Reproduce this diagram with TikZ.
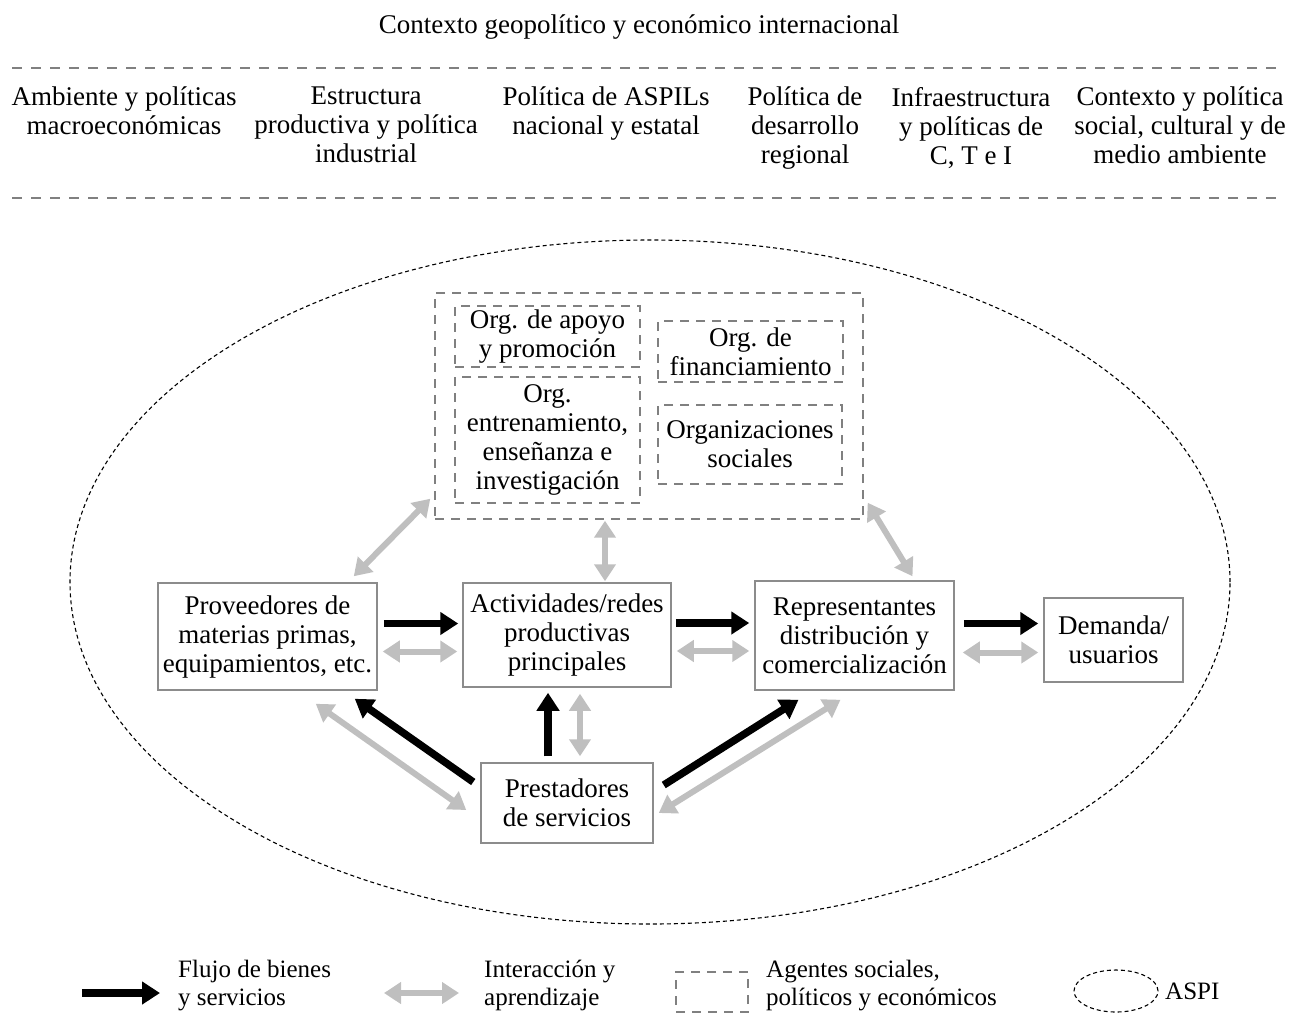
\documentclass[tikz,border=0pt]{standalone}
\usepackage{fontspec}
\setmainfont{Liberation Serif}
\usetikzlibrary{arrows.meta}
\definecolor{linegray}{RGB}{128,128,128}
\definecolor{boxgray}{RGB}{140,140,140}
\definecolor{intergray}{RGB}{191,191,191}
\tikzset{
  txt/.style={font=\fontsize{27}{29}\selectfont, align=center, inner sep=0pt},
  topic/.style={txt, anchor=north, execute at begin node=\strut},
  box/.style={txt, draw=boxgray, line width=1.5pt},
  agent/.style={txt, draw=linegray, line width=1.4pt, dash pattern=on 9pt off 7pt},
  sepline/.style={draw=linegray, line width=2pt, dash pattern=on 10pt off 9pt},
  aspi/.style={draw=black, line width=1.1pt, dash pattern=on 4pt off 3pt},
  flow/.style={line width=7.5pt, -{Triangle[length=18pt,width=22pt]}},
  inter/.style={draw=intergray, line width=6pt, {Triangle[length=17pt,width=21pt]}-{Triangle[length=17pt,width=21pt]}},
  legend/.style={font=\fontsize{25}{28}\selectfont, align=left, anchor=north west, inner sep=0pt, execute at begin node=\strut}
}
\begin{document}
\begin{tikzpicture}[x=1pt, y=-1pt]
  \useasboundingbox (0,0) rectangle (1292,1013);
  \node[txt, anchor=base] (ctx) at (639,33) {Contexto geopolítico y económico internacional};
  \draw[sepline] (12,68) -- (1282,68);
  \draw[sepline] (12,198) -- (1282,198);
  \node[topic] (macro) at (124,87) {Ambiente y políticas\\macroeconómicas};
  \node[topic] (indus) at (366,87) {Estructura\\productiva y política\\industrial};
  \node[topic] (aspil) at (606,87) {Política de ASPILs\\nacional y estatal};
  \node[topic] (region) at (805,87) {Política de\\desarrollo\\regional};
  \node[topic] (cti) at (971,87) {Infraestructura\\y políticas de\\C, T e I};
  \node[topic] (social) at (1180,87) {Contexto y política\\social, cultural y de\\medio ambiente};

  \draw[aspi] (650,582) ellipse [x radius=580pt, y radius=342pt];

  \node[agent, minimum width=428pt, minimum height=226pt] (agents) at (649,406) {};
  \node[agent, minimum width=185pt, minimum height=61pt] (apoyo) at (547.5,336.5) {Org. de apoyo\\y promoción};
  \node[agent, minimum width=185pt, minimum height=126pt] (entren) at (547.5,440) {Org.\\entrenamiento,\\enseñanza e\\investigación};
  \node[agent, minimum width=185pt, minimum height=61pt] (financ) at (750.5,351.5) {Org. de\\financiamiento};
  \node[agent, minimum width=184pt, minimum height=79pt] (osoc) at (750,444.5) {Organizaciones\\sociales};

  \node[box, minimum width=219pt, minimum height=107pt] (prov) at (267.5,636.5) {Proveedores de\\materias primas,\\equipamientos, etc.};
  \node[box, minimum width=208pt, minimum height=104pt] (act) at (567,635) {Actividades/redes\\productivas\\principales};
  \node[box, minimum width=199pt, minimum height=109pt] (rep) at (854.5,635.5) {Representantes\\distribución y\\comercialización};
  \node[box, minimum width=139pt, minimum height=84pt] (dem) at (1113.5,640) {Demanda/\\usuarios};
  \node[box, minimum width=172pt, minimum height=80pt] (pres) at (567,803) {Prestadores\\de servicios};

  \draw[flow, shorten <=6pt, shorten >=4pt] ([yshift=13pt]prov.east) -- ([yshift=13pt]prov.east -| act.west);
  \draw[inter, shorten <=5pt, shorten >=5pt] ([yshift=-15pt]prov.east) -- ([yshift=-15pt]prov.east -| act.west);
  \draw[flow, shorten <=4pt, shorten >=5pt] ([yshift=12pt]act.east) -- ([yshift=12pt]act.east -| rep.west);
  \draw[inter, shorten <=5pt, shorten >=5pt] ([yshift=-16pt]act.east) -- ([yshift=-16pt]act.east -| rep.west);
  \draw[flow, shorten <=9pt, shorten >=5pt] ([yshift=12pt]rep.east) -- ([yshift=12pt]rep.east -| dem.west);
  \draw[inter, shorten <=8pt, shorten >=5pt] ([yshift=-17pt]rep.east) -- ([yshift=-17pt]rep.east -| dem.west);

  \draw[flow, shorten <=6pt, shorten >=5pt] ([xshift=-19pt]pres.north) -- ([xshift=-19pt]pres.north |- act.south);
  \draw[inter, shorten <=6pt, shorten >=6pt] ([xshift=13pt]pres.north) -- ([xshift=13pt]pres.north |- act.south);
  \draw[flow] ([shift={(-7,-21)}]pres.west) -- ([shift={(-23,8)}]prov.south east);
  \draw[inter] ([shift={(-62,13)}]prov.south east) -- ([shift={(-14,7)}]pres.west);
  \draw[flow] ([shift={(10,-18)}]pres.east) -- ([shift={(-56,9)}]rep.south);
  \draw[inter] ([shift={(5,10)}]pres.east) -- ([shift={(-14,9)}]rep.south);

  \draw[inter] ([shift={(-24,-6)}]prov.north east) -- ([shift={(-4,-21)}]agents.south west);
  \draw[inter, shorten <=1pt, shorten >=1pt] ([xshift=38pt]act.north) -- ([xshift=38pt]act.north |- agents.south);
  \draw[inter] ([shift={(58,-4)}]rep.north) -- ([shift={(4,-17)}]agents.south east);

  \coordinate (fa) at (82,993);
  \coordinate (fb) at (160,993);
  \draw[flow] (fa) -- (fb);
  \node[legend] (lflow) at (178,960) {Flujo de bienes\\y servicios};
  \coordinate (ia) at (384,993);
  \coordinate (ib) at (459,993);
  \draw[inter] (ia) -- (ib);
  \node[legend] (linter) at (484,960) {Interacción y\\aprendizaje};
  \node[agent, minimum width=72pt, minimum height=40pt] (lagent) at (712,992) {};
  \node[legend] (lagents) at (766,960) {Agentes sociales,\\políticos y económicos};
  \draw[aspi] (1116,991) ellipse [x radius=42pt, y radius=21pt];
  \node[font=\fontsize{25}{28}\selectfont, anchor=base west, inner sep=0pt] (laspi) at (1165,999) {ASPI};
\end{tikzpicture}
\end{document}
